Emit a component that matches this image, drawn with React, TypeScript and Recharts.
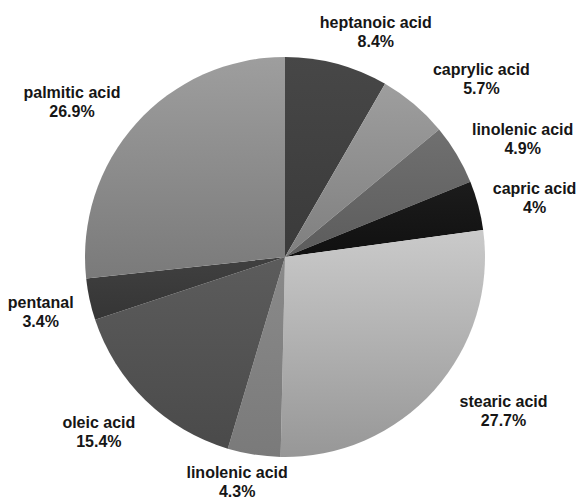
import { Cell, Pie, PieChart } from "recharts";

const compounds = [
  "heptanoic acid",
  "caprylic acid",
  "linolenic acid",
  "capric acid",
  "stearic acid",
  "linolenic acid",
  "oleic acid",
  "pentanal",
  "palmitic acid",
];

const shares = [8.4, 5.7, 4.9, 4, 27.7, 4.3, 15.4, 3.4, 26.9];

// [top, bottom] shade of each slice's vertical gradient
const shades: [string, string][] = [
  ["#474747", "#3a3a3a"],
  ["#9e9e9e", "#7f7f7f"],
  ["#707070", "#5c5c5c"],
  ["#1c1c1c", "#101010"],
  ["#cacaca", "#979797"],
  ["#8a8a8a", "#7a7a7a"],
  ["#5c5c5c", "#4a4a4a"],
  ["#404040", "#353535"],
  ["#9e9e9e", "#7a7a7a"],
];

// nudges applied to each label after placing it along the slice's mid angle
const labelNudge: [number, number][] = [
  [26, 16],
  [35, 13],
  [23, 10],
  [8, 5],
  [32, -12],
  [-9, -22],
  [-12, -4],
  [0, 2],
  [-27, 12],
];

const data = compounds.map((name, i) => ({ name, value: shares[i] }));

const RADIAN = Math.PI / 180;

function SliceLabel(props: any) {
  const { cx, cy, midAngle, outerRadius, index, name, value } = props;
  const r = outerRadius + 50;
  const [dx, dy] = labelNudge[index];
  const x = cx + r * Math.cos(midAngle * RADIAN) + dx;
  const y = cy - r * Math.sin(midAngle * RADIAN) + dy;
  return (
    <text
      x={x}
      y={y}
      textAnchor="middle"
      fontFamily="'Liberation Sans', Arial, sans-serif"
      fontWeight="bold"
      fontSize={16}
      fill="#161616"
    >
      <tspan x={x} dy={-4}>
        {name}
      </tspan>
      <tspan x={x} dy={19}>
        {`${value}%`}
      </tspan>
    </text>
  );
}

export default function App() {
  return (
    <div style={{ position: "absolute", left: 0, top: 0, width: 580, height: 501, background: "#fff" }}>
      <PieChart width={580} height={501} margin={{ top: 0, right: 0, bottom: 0, left: 0 }}>
        <defs>
          {shades.map(([top, bottom], i) => (
            <linearGradient key={i} id={`slice-${i}`} x1="0" y1="0" x2="0" y2="1">
              <stop offset="0%" stopColor={top} />
              <stop offset="100%" stopColor={bottom} />
            </linearGradient>
          ))}
        </defs>
        <Pie
          data={data}
          dataKey="value"
          nameKey="name"
          cx={285}
          cy={257}
          outerRadius={200}
          startAngle={90}
          endAngle={-270}
          stroke="none"
          labelLine={false}
          label={SliceLabel}
          isAnimationActive={false}
        >
          {data.map((_, i) => (
            <Cell key={i} fill={`url(#slice-${i})`} />
          ))}
        </Pie>
      </PieChart>
    </div>
  );
}
